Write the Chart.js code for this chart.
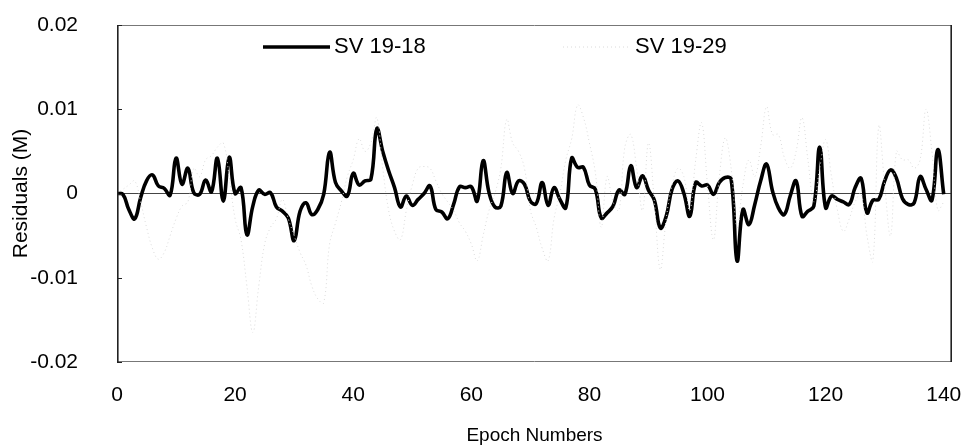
<!DOCTYPE html>
<html>
<head>
<meta charset="utf-8">
<script src="https://cdn.jsdelivr.net/npm/chart.js@4.4.1/dist/chart.umd.min.js"></script>
<style>
  html, body { margin: 0; padding: 0; background: #fff; }
  #wrap { width: 968px; height: 448px; position: relative; }
</style>
</head>
<body>
<div id="wrap"><canvas id="c" width="968" height="448"></canvas></div>
<script>
// Epoch index of every sample
const epochs = Array.from({ length: 141 }, (_, i) => i);

// Double-difference residuals (m), SV 19-18
const sv1918 = [
  0.0000, -0.0001, -0.0019, -0.0030, -0.0005, 0.0015, 0.0022, 0.0009, 0.0006, -0.0002,
  0.0042, 0.0011, 0.0030, 0.0001, -0.0001, 0.0016, 0.0002, 0.0042, -0.0009, 0.0043,
  0.0000, 0.0007, -0.0049, -0.0015, 0.0004, -0.0001, 0.0001, -0.0016, -0.0021, -0.0029,
  -0.0056, -0.0021, -0.0011, -0.0025, -0.0019, -0.0001, 0.0049, 0.0013, 0.0003, -0.0003,
  0.0024, 0.0010, 0.0015, 0.0017, 0.0077, 0.0050, 0.0027, 0.0007, -0.0016, -0.0003,
  -0.0014, -0.0007, 0.0000, 0.0009, -0.0019, -0.0022, -0.0030, -0.0013, 0.0008, 0.0007,
  0.0008, -0.0009, 0.0039, 0.0001, -0.0016, -0.0015, 0.0025, 0.0000, 0.0015, 0.0011,
  -0.0009, -0.0012, 0.0013, -0.0014, 0.0007, -0.0007, -0.0017, 0.0042, 0.0031, 0.0031,
  0.0010, 0.0005, -0.0029, -0.0023, -0.0015, 0.0004, -0.0001, 0.0033, 0.0007, 0.0021,
  0.0004, -0.0008, -0.0041, -0.0027, 0.0005, 0.0015, 0.0000, -0.0027, 0.0013, 0.0009,
  0.0010, -0.0001, 0.0013, 0.0019, 0.0017, -0.0080, -0.0019, -0.0037, -0.0013, 0.0015,
  0.0035, 0.0003, -0.0017, -0.0025, -0.0003, 0.0015, -0.0027, -0.0021, -0.0015, 0.0055,
  -0.0017, -0.0003, -0.0007, -0.0010, -0.0013, 0.0007, 0.0018, -0.0023, -0.0008, -0.0007,
  0.0015, 0.0028, 0.0018, -0.0006, -0.0013, -0.0011, 0.0020, 0.0005, -0.0008, 0.0052,
  -0.0001
];

// Double-difference residuals (m), SV 19-29
const sv1929 = [
  0.0000, 0.0005, 0.0010, 0.0015, -0.0010, -0.0040, -0.0065, -0.0078, -0.0070, -0.0050,
  -0.0030, -0.0015, -0.0010, 0.0030, 0.0020, 0.0040, 0.0045, 0.0055, 0.0060, 0.0020,
  -0.0030, -0.0055, -0.0110, -0.0165, -0.0110, -0.0060, -0.0040, -0.0030, -0.0007, -0.0030,
  -0.0050, -0.0070, -0.0085, -0.0110, -0.0125, -0.0130, -0.0060, -0.0035, -0.0010, 0.0020,
  0.0040, 0.0065, 0.0050, 0.0060, 0.0090, 0.0030, -0.0020, -0.0045, -0.0055, -0.0020,
  0.0010, 0.0030, 0.0032, 0.0030, 0.0015, 0.0000, -0.0010, -0.0020, -0.0035, -0.0045,
  -0.0060, -0.0080, -0.0050, -0.0020, 0.0000, 0.0030, 0.0088, 0.0060, 0.0050, 0.0030,
  -0.0020, -0.0040, -0.0065, -0.0080, -0.0030, 0.0000, 0.0040, 0.0065, 0.0105, 0.0090,
  0.0060, 0.0025, -0.0040, 0.0020, -0.0010, -0.0020, 0.0055, 0.0070, 0.0030, -0.0020,
  0.0060, -0.0010, -0.0090, -0.0030, 0.0010, 0.0030, 0.0020, -0.0020, 0.0040, 0.0084,
  0.0010, -0.0055, 0.0020, 0.0066, 0.0030, -0.0040, 0.0010, 0.0040, 0.0020, 0.0056,
  0.0103, 0.0070, 0.0070, 0.0043, 0.0030, 0.0050, 0.0090, 0.0040, -0.0010, 0.0030,
  0.0064, 0.0020, -0.0020, -0.0045, -0.0030, -0.0010, 0.0000, -0.0050, -0.0080, 0.0080,
  0.0010, -0.0050, 0.0050, 0.0040, 0.0040, 0.0030, 0.0040, 0.0100, 0.0050, -0.0020,
  -0.0010
];

// Axis tick values
const xTicks = [0, 20, 40, 60, 80, 100, 120, 140];
const yTicks = [-0.02, -0.01, 0, 0.01, 0.02];

const FONT = "'Liberation Sans', Arial, sans-serif";
const toPoints = (xs, ys) => xs.map((x, i) => ({ x: x, y: ys[i] }));

// Frame around the plot area with short inward ticks on the value axis
const framePlugin = {
  id: 'frame',
  afterDatasetsDraw(chart) {
    const { ctx, chartArea: a, scales: { y } } = chart;
    ctx.save();
    ctx.strokeStyle = '#777';
    ctx.lineWidth = 1;
    ctx.beginPath();
    ctx.moveTo(a.left, a.top + 0.5); ctx.lineTo(a.right, a.top + 0.5);
    ctx.moveTo(a.left, a.bottom - 0.5); ctx.lineTo(a.right, a.bottom - 0.5);
    ctx.stroke();
    ctx.strokeStyle = '#222';
    ctx.lineWidth = 1.6;
    ctx.beginPath();
    ctx.moveTo(a.left + 0.8, a.top); ctx.lineTo(a.left + 0.8, a.bottom);
    ctx.moveTo(a.right - 0.8, a.top); ctx.lineTo(a.right - 0.8, a.bottom);
    ctx.stroke();
    ctx.lineWidth = 1;
    ctx.beginPath();
    yTicks.forEach(v => {
      const py = Math.round(y.getPixelForValue(v)) + 0.5;
      ctx.moveTo(a.left, py); ctx.lineTo(a.left + 5, py);
    });
    ctx.stroke();
    ctx.restore();
  }
};

// Legend drawn inside the plot area
const legendPlugin = {
  id: 'innerLegend',
  afterDraw(chart) {
    const { ctx, chartArea: a } = chart;
    const items = [
      { ds: chart.data.datasets[1], x0: a.left + 146, len: 67 },
      { ds: chart.data.datasets[0], x0: a.left + 446, len: 68 }
    ];
    const yMid = a.top + 22;
    ctx.save();
    items.forEach(it => {
      ctx.strokeStyle = it.ds.borderColor;
      ctx.lineWidth = it.ds.borderWidth;
      ctx.setLineDash(it.ds.borderDash || []);
      ctx.beginPath();
      ctx.moveTo(it.x0, yMid); ctx.lineTo(it.x0 + it.len, yMid);
      ctx.stroke();
      ctx.setLineDash([]);
      ctx.fillStyle = '#000';
      ctx.font = '22px ' + FONT;
      ctx.textBaseline = 'middle';
      ctx.textAlign = 'left';
      ctx.fillText(it.ds.label, it.x0 + it.len + 4, yMid);
    });
    ctx.restore();
  }
};

new Chart(document.getElementById('c'), {
  type: 'line',
  data: {
    datasets: [
      {
        label: 'SV 19-29',
        data: toPoints(epochs, sv1929),
        borderColor: '#dadada',
        borderWidth: 1,
        borderDash: [1, 3],
        pointRadius: 0,
        tension: 0.4,
        fill: false
      },
      {
        label: 'SV 19-18',
        data: toPoints(epochs, sv1918),
        borderColor: '#000',
        borderWidth: 3.6,
        pointRadius: 0,
        tension: 0.42,
        fill: false
      }
    ]
  },
  options: {
    responsive: false,
    animation: false,
    events: [],
    layout: { padding: { top: 25, right: 16, left: 0, bottom: 0 } },
    plugins: { legend: { display: false }, tooltip: { enabled: false } },
    scales: {
      x: {
        type: 'linear',
        min: 0,
        max: 141.4,
        afterBuildTicks: s => { s.ticks = xTicks.map(v => ({ value: v })); },
        afterFit: s => { s.height = 86; s.paddingLeft = 0; s.paddingRight = 0; },
        grid: { display: false, drawTicks: false },
        border: { display: false },
        ticks: {
          padding: 21,
          color: '#000',
          font: { family: FONT, size: 21 },
          maxRotation: 0,
          callback: v => String(v)
        },
        title: {
          display: true,
          text: 'Epoch Numbers',
          color: '#000',
          font: { family: FONT, size: 19 },
          padding: { top: 0, bottom: 1 }
        }
      },
      y: {
        min: -0.02,
        max: 0.02,
        afterBuildTicks: s => { s.ticks = yTicks.map(v => ({ value: v })); },
        afterFit: s => { s.width = 117; s.paddingTop = 0; s.paddingBottom = 0; },
        grid: {
          drawTicks: false,
          color: c => (c.tick && c.tick.value === 0 ? '#444' : 'rgba(0,0,0,0)'),
          lineWidth: 1
        },
        border: { display: false },
        ticks: {
          padding: 39,
          color: '#000',
          font: { family: FONT, size: 21 },
          callback: v => (v === 0 ? '0' : (Math.round(v * 100) / 100).toFixed(2))
        },
        title: {
          display: true,
          text: 'Residuals (M)',
          color: '#000',
          font: { family: FONT, size: 21 },
          padding: { top: 9, bottom: 0 }
        }
      }
    }
  },
  plugins: [framePlugin, legendPlugin]
});
</script>
</body>
</html>
